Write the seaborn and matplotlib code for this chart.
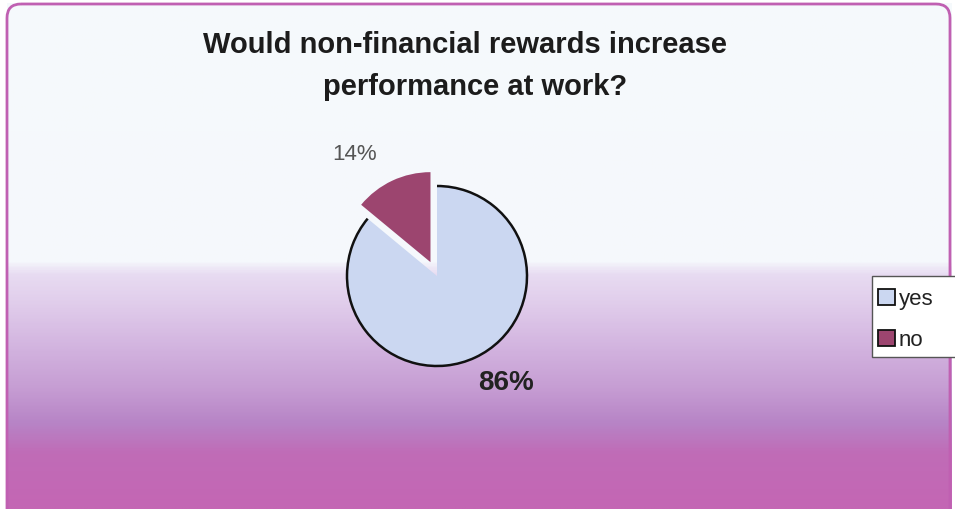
import numpy as np
import matplotlib
matplotlib.use("Agg")
import matplotlib.pyplot as plt
import seaborn as sns
from matplotlib.colors import LinearSegmentedColormap
from matplotlib.patches import FancyBboxPatch, Arc, Rectangle

# Survey answers
categories = ["yes", "no"]
shares = [86, 14]
slice_colors = ["#cbd7f1", "#9c456f"]
title_lines = ["Would non-financial rewards increase", "performance at work?"]

sns.set_theme(style="white")
plt.rcParams["font.family"] = ["Liberation Sans", "DejaVu Sans"]

W, H = 955, 510
fig = plt.figure(figsize=(W / 100, H / 100), dpi=100)
fig.patch.set_facecolor("white")

# Background panel: pale top fading into a lavender-to-magenta band
bg = fig.add_axes([0, 0, 1, 1])
bg.set_xlim(0, W)
bg.set_ylim(H, 0)
bg.axis("off")
stops = [
    (0.00, "#f6fafc"),
    (262 / H, "#f5f8fc"),
    (275 / H, "#e8dcf2"),
    (310 / H, "#dfcaea"),
    (350 / H, "#d2b3df"),
    (390 / H, "#c69dd3"),
    (425 / H, "#b784c6"),
    (455 / H, "#c06cb7"),
    (1.00, "#c466b4"),
]
cmap = LinearSegmentedColormap.from_list("panel", stops)
rows = np.linspace(4, H, 400) / H
grad = np.repeat(rows[:, None], 10, axis=1)
bg.imshow(grad, cmap=cmap, vmin=0, vmax=1, aspect="auto",
          extent=(7, 951, H, 4), interpolation="bilinear")
bg.add_patch(FancyBboxPatch((7, 5), 943, 530,
                            boxstyle="round,pad=0,rounding_size=14",
                            facecolor="none", edgecolor="#c060b2", lw=2))
# Legend panel, running off the right edge
bg.add_patch(Rectangle((872, 277), 100, 81, facecolor="white",
                       edgecolor="#555555", lw=1, zorder=3))

# Title
fig.text(0.487, 1 - 45 / H, title_lines[0], ha="center", va="center",
         fontsize=21, fontweight="bold", color="#1c1c1c")
fig.text(0.497, 1 - 87 / H, title_lines[1], ha="center", va="center",
         fontsize=21, fontweight="bold", color="#1c1c1c")

# Pie
cx, cy, R = 437, 277, 90
ax = fig.add_axes([(cx - 100) / W, (H - cy - 100) / H, 200 / W, 200 / H])
ax.patch.set_alpha(0)

wedges, _ = ax.pie(shares, colors=slice_colors, startangle=90,
                   counterclock=False, explode=[0, 0.17],
                   wedgeprops=dict(linewidth=0))
ax.set_xlim(-100 / R, 100 / R)
ax.set_ylim(-100 / R, 100 / R)
ax.axis("off")
main = wedges[0]
ax.add_patch(Arc(main.center, 2 * main.r, 2 * main.r,
                 theta1=main.theta1, theta2=main.theta2,
                 color="#111111", lw=1.8))

# Percentage labels placed around the pie
label_layout = [(-57, 1.40, 20, "bold", "#222222"),
                (124, 1.64, 16, "normal", "#555555")]
for v, (ang, dist, fs, fw, col) in zip(shares, label_layout):
    a = np.deg2rad(ang)
    ax.text(dist * np.cos(a), dist * np.sin(a), f"{v}%", ha="center",
            va="center", fontsize=fs, fontweight=fw, color=col,
            clip_on=False)

# Legend
leg = fig.legend(wedges, categories, loc="upper left",
                 bbox_to_anchor=(874 / W, 1 - 285 / H), frameon=False,
                 fontsize=16, handlelength=0.75, handleheight=0.75,
                 handletextpad=0.15, borderpad=0.2,
                 labelspacing=0.9, borderaxespad=0)
for p in leg.get_patches():
    p.set_edgecolor("#111111")
    p.set_linewidth(1.3)
for t in leg.get_texts():
    t.set_color("#222222")

fig.savefig("out.png", dpi=100)
